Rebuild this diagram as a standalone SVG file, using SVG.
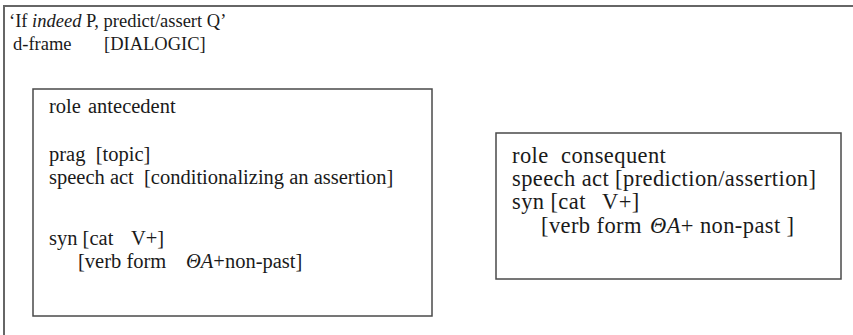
<svg xmlns="http://www.w3.org/2000/svg" width="853" height="335" viewBox="0 0 853 335">
  <style>
    text { font-family: "Liberation Serif", "Times New Roman", serif; fill: #1a1a1a; }
    .hd { font-size: 18.5px; }
    .l { font-size: 20.5px; }
    .r { font-size: 22.5px; letter-spacing: 0.4px; }
    .it { font-style: italic; }
    .frame { fill: none; stroke: #666; stroke-width: 2; }
    .box { fill: #fff; stroke: #4a4a4a; stroke-width: 1.5; }
  </style>
  <rect width="853" height="335" fill="#fff"/>

  <!-- outer frame: top and left edges only -->
  <path class="frame" d="M4,335 V6 H853"/>

  <g id="header" class="hd">
    <text x="9" y="27">‘If <tspan class="it">indeed</tspan> P, predict/assert Q’</text>
    <text x="13" y="50">d-frame</text>
    <text x="104" y="50">[DIALOGIC]</text>
  </g>

  <g id="antecedent" class="l">
    <rect class="box" x="33" y="89" width="399" height="227"/>
    <text x="49" y="113">role</text>
    <text x="88" y="113">antecedent</text>
    <text x="49" y="161" xml:space="preserve">prag  [topic]</text>
    <text x="49" y="184" xml:space="preserve">speech act  [conditionalizing an assertion]</text>
    <text x="49" y="245">syn [cat</text>
    <text x="131" y="245">V+]</text>
    <text x="78" y="268">[verb form</text>
    <text x="186" y="268"><tspan class="it">ΘA</tspan>+non-past]</text>
  </g>

  <g id="consequent" class="r">
    <rect class="box" x="496" y="133" width="345" height="146"/>
    <text x="512" y="163">role</text>
    <text x="561" y="163">consequent</text>
    <text x="512" y="186">speech act [prediction/assertion]</text>
    <text x="512" y="209">syn [cat</text>
    <text x="602" y="209">V+]</text>
    <text x="541" y="233">[verb form</text>
    <text x="650" y="233"><tspan class="it">ΘA</tspan>+ non-past ]</text>
  </g>

  <g id="connectors"/>
</svg>
